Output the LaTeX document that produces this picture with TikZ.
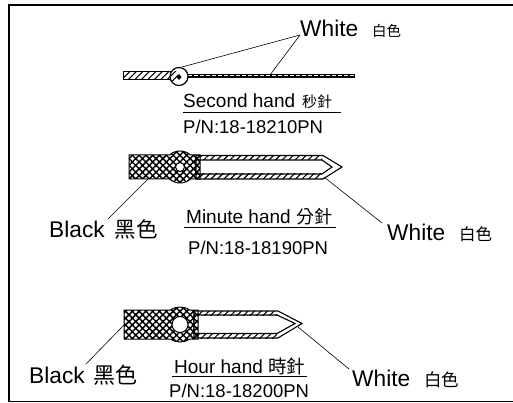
\documentclass[tikz,border=0pt]{standalone}
\usepackage{fontspec}
\setmainfont{Liberation Sans}
\newfontfamily\cjk{Noto Sans CJK TC}
\usetikzlibrary{patterns.meta,positioning}

\begin{document}
\begin{tikzpicture}[x=1pt,y=-1pt,
label/.style={inner sep=0pt, anchor=base west, font=\fontsize{22.7}{23}\selectfont},
title/.style={inner sep=0pt, anchor=base west, font=\fontsize{19}{19}\selectfont},
partno/.style={inner sep=0pt, anchor=base west, font=\fontsize{18.5}{19}\selectfont},
leader/.style={draw, line width=0.6pt},
rule/.style={draw, line width=1pt},
black part/.style={draw, line width=1pt, pattern={Hatch[angle=45,distance=4.8pt,line width=1.5pt]}},
white part/.style={draw, line width=1.1pt, fill=white},
hatched/.style={pattern={Lines[angle=45,distance=4.6pt,line width=1.1pt]}}
]
    \useasboundingbox (0,0) rectangle (513,403);
    \draw[line width=1.3pt] (513,5) -- (9,5) -- (9,401.5) -- (513,401.5);

    % second hand
    \draw[line width=3.4pt] (178,76) -- (355,76);
    \draw[white, line width=1pt, dash pattern=on 4pt off 2pt] (188,76) -- (355,76);
    \draw[draw, line width=1pt, hatched] (123,72) rectangle (172,80);
    \node[draw, circle, line width=1.2pt, fill=white, minimum size=18pt, inner sep=0pt] (hub2) at (179,76.5) {};
    \fill[hatched] (171,72) rectangle (178,81);
    \fill (179,74) -- (181.5,77) -- (179,80) -- (176.5,77) -- cycle;
    \coordinate (a2) at (182,67);
    \coordinate (b2) at (270,75);
    \node[label] (white2) at (300,37) {White\hspace{14pt}{\cjk\fontsize{14.5}{15}\selectfont 白色}};
    \coordinate (w2) at (300,35);
    \draw[leader] (w2) -- (a2);
    \draw[leader] (w2) -- (b2);
    \node[title] (name2) at (183,108) {Second hand\hspace{7pt}{\cjk\fontsize{15}{15}\selectfont 秒針}};
    \draw[rule] (183,113) -- (341,113);
    \node[partno] (pn2) at (183,133.5) {P/N:18-18210PN};

    % minute hand
    \draw[white part] (196,155.5) -- (323,155.5) -- (342,167) -- (323,179) -- (196,179) -- cycle;
    \draw[white part] (196,160) -- (322,160) -- (332,167) -- (322,174) -- (196,174) -- cycle;
    \fill[hatched] (200,155.5) rectangle (322,160);
    \fill[hatched] (200,174) rectangle (322,179);
    \draw[black part] (129,155) -- (169.4,155) arc[start angle=228.6, end angle=311.4, radius=16]
      -- (200,155) -- (200,179) -- (190.6,179) arc[start angle=48.6, end angle=131.4, radius=16]
      -- (129,179) -- cycle;
    \node[draw, circle, fill=white, line width=1pt, minimum size=9pt, inner sep=0pt] (hub3) at (180,167) {};
    \coordinate (blk3) at (148,179);
    \coordinate (wht3) at (324,177);
    \node[label] (black3) at (49,237) {Black\hspace{10pt}{\cjk\fontsize{21.5}{22}\selectfont 黑色}};
    \node[label] (white3) at (387,240) {White\hspace{14pt}{\cjk\fontsize{16.5}{17}\selectfont 白色}};
    \coordinate (b3) at (108,219);
    \coordinate (w3) at (382,223);
    \draw[leader] (b3) -- (blk3);
    \draw[leader] (w3) -- (wht3);
    \node[title] (name3) at (186,223) {Minute hand {\cjk\fontsize{18}{18}\selectfont 分針}};
    \draw[rule] (184,227) -- (336,227);
    \node[partno] (pn3) at (188,254) {P/N:18-18190PN};

    % hour hand
    \draw[white part] (194,311) -- (278,311) -- (302,323.5) -- (278,338) -- (194,338) -- cycle;
    \draw[white part] (194,315) -- (277,315) -- (295,323.5) -- (277,333.5) -- (194,333.5) -- cycle;
    \fill[hatched] (198,311) rectangle (277,315);
    \fill[hatched] (198,333.5) rectangle (277,338);
    \draw[black part] (124,310) -- (170.2,310) arc[start angle=235.9, end angle=304.1, radius=17.5]
      -- (198,310) -- (198,339) -- (189.8,339) arc[start angle=55.9, end angle=124.1, radius=17.5]
      -- (124,339) -- cycle;
    \node[draw, circle, fill=white, line width=1pt, minimum size=16pt, inner sep=0pt] (hub4) at (180,324.5) {};
    \coordinate (blk4) at (124,325);
    \coordinate (wht4) at (298,327);
    \node[label] (black4) at (29,383) {Black\hspace{9pt}{\cjk\fontsize{22}{22}\selectfont 黑色}};
    \node[label] (white4) at (352,386) {White\hspace{14pt}{\cjk\fontsize{17.5}{18}\selectfont 白色}};
    \coordinate (b4) at (86,364);
    \coordinate (w4) at (349,369);
    \draw[leader] (b4) -- (blk4);
    \draw[leader] (w4) -- (wht4);
    \node[title] (name4) at (174,373) {Hour hand {\cjk\fontsize{18.5}{19}\selectfont 時針}};
    \draw[rule] (172,376.5) -- (307,376.5);
    \node[partno] (pn4) at (169,397) {P/N:18-18200PN};
\end{tikzpicture}
\end{document}
